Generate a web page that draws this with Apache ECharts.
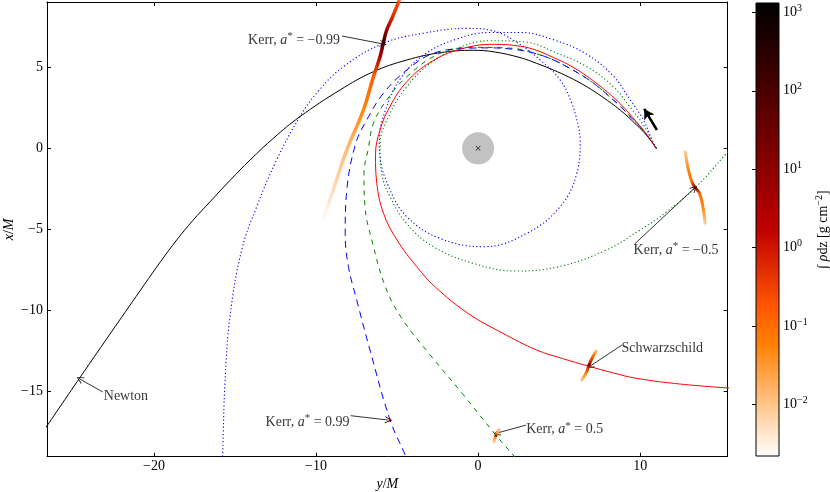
<!DOCTYPE html>
<html><head><meta charset="utf-8">
<script src="https://cdn.jsdelivr.net/npm/echarts@6/dist/echarts.min.js"></script>
<style>html,body{margin:0;padding:0;background:#fff}#c{width:830px;height:492px}</style>
</head><body><div id="c"></div>
<script>
const FONT = 'Liberation Serif';
// axis ticks
const xTicks = [-20, -10, 0, 10];
const yTicks = [-15, -10, -5, 0, 5];
const cbTicks = [-2, -1, 0, 1, 2, 3];
const cbRange = [-2.66, 3.12];

// trajectories [y/M, x/M]
const newton = [[11,0],[10.4,0.8],[9.78,1.44],[8.77,2.36],[7.7,3.15],[6.71,3.8],[5.6,4.4],[4.65,4.83],[3.6,5.25],[2.59,5.6],[1.0,5.95],[-0.3,6.05],[-2.35,5.9],[-4.4,5.45],[-6.46,4.73],[-8.52,3.6],[-11,1.95],[-12.6,0.65],[-14.07,-0.72],[-15.3,-1.97],[-16.54,-3.3],[-17.6,-4.45],[-18.6,-5.66],[-19.6,-7.0],[-20.6,-8.42],[-22.5,-11.15],[-24.57,-14.15],[-26.8,-17.42]];
const schwarzschild = [[11,0],[10.45,0.8],[9.8,1.6],[8.77,2.75],[7.7,3.7],[6.71,4.45],[5.6,5.15],[4.65,5.6],[3.6,6.05],[2.6,6.3],[1.0,6.42],[-1.1,6.12],[-2.96,5.3],[-4.4,4.11],[-5.43,2.6],[-6.05,1.13],[-6.33,-0.4],[-6.25,-2.16],[-5.84,-4.0],[-5.0,-5.66],[-3.79,-7.3],[-2.65,-8.55],[-0.6,-10.2],[1.5,-11.4],[3.62,-12.45],[5.2,-12.97],[6.81,-13.44],[8.3,-13.85],[9.8,-14.2],[12.5,-14.55],[15.6,-14.8]];
const kerr099 = [[11,0],[10.4,0.82],[9.9,1.44],[9.28,2.06],[8.77,2.61],[8.15,3.15],[7.53,3.7],[6.91,4.17],[6.19,4.63],[5.47,5.04],[4.75,5.41],[4.03,5.7],[3.21,5.93],[2.18,6.11],[0.7,6.2],[-0.7,6.17],[-2.76,5.86],[-4.4,4.83],[-5.84,3.4],[-6.87,1.75],[-7.55,0.3],[-8.1,-2.57],[-8.2,-5.25],[-8.0,-7.3],[-7.49,-9.36],[-6.67,-12.45],[-5.43,-16.77],[-4.5,-18.93],[-4.4,-19.3]];
const kerr05 = [[11,0],[10.4,0.82],[9.9,1.44],[9.28,2.06],[8.77,2.61],[8.15,3.15],[7.53,3.7],[6.91,4.17],[6.19,4.63],[5.47,5.04],[4.75,5.41],[4.03,5.7],[3.21,5.95],[2.18,6.17],[-0.29,6.23],[-2.35,5.86],[-4.4,4.42],[-5.64,2.98],[-6.46,1.54],[-6.77,0],[-7.04,-1.54],[-6.98,-3.6],[-6.56,-5.66],[-5.7,-8.6],[-4.71,-10.49],[-3.0,-12.7],[-1.0,-15.1],[1.1,-17.7],[2.3,-19.1],[2.5,-19.4]];
const kerrM05 = [[11,0],[10.82,0.31],[10.2,1.44],[9.36,2.57],[8.35,3.8],[6.71,5.04],[4.65,5.96],[3.0,6.55],[0.74,6.64],[-1.31,6.17],[-2.96,5.25],[-4.4,3.8],[-5.43,2.16],[-6.05,0.2],[-5.95,-1.54],[-5.43,-2.99],[-4.42,-4.63],[-2.76,-6.07],[-0.29,-7.1],[2.3,-7.57],[5.0,-7.3],[7.9,-6.28],[10.0,-5.04],[11.65,-3.91],[13.4,-2.43],[15.25,-0.4],[15.7,0.1]];
const kerrM099 = [[11,0],[10.82,0.31],[10.2,1.75],[9.38,3.0],[8.35,4.45],[6.71,5.8],[4.65,6.7],[2.6,7.15],[0.8,7.15],[-1.3,6.75],[-3.3,5.8],[-4.8,4.3],[-5.7,2.4],[-6.1,0.5],[-6.05,-0.52],[-5.43,-2.57],[-4.4,-4.22],[-2.35,-5.56],[0.33,-6.07],[3.0,-5.25],[5.06,-3.6],[6.09,-1.54],[6.3,0.5],[6.19,1.33],[5.78,2.78],[5.06,4.22],[3.83,5.45],[2.3,6.6],[0.74,7.3],[-0.7,7.4],[-3.38,7.1],[-5.84,6.48],[-8.31,5.04],[-9.8,3.6],[-11.0,1.95],[-12.43,-0.72],[-13.66,-3.6],[-14.59,-6.28],[-15.31,-10.4],[-15.62,-14.5],[-15.76,-18.83],[-15.8,-19.5]];

// debris streaks and log10 column density along them
const streakM099 = [[-4.88,9.1],[-5.31,8.04],[-5.64,7.3],[-5.86,6.45],[-6.05,5.65],[-6.46,4.42],[-7.08,2.36],[-8.1,-0.1],[-8.95,-2.6],[-9.57,-4.43]];
const rhoM099 = [-0.7,-0.3,0.6,2.2,0.6,-0.8,-1.3,-1.9,-2.3,-2.65];
const streakM05 = [[12.78,-0.21],[12.98,-1.34],[13.19,-2.06],[13.4,-2.43],[13.66,-2.78],[13.87,-3.6],[14.01,-4.63]];
const rhoM05 = [-2.2,-1.3,-1.0,1.2,-1.0,-1.3,-2.2];
const streakSchw = [[7.28,-12.51],[7.08,-12.86],[6.84,-13.37],[6.7,-13.79],[6.4,-14.3]];
const rhoSchw = [-2.2,-1.2,0.5,-1.2,-2.2];
const streak05 = [[1.3,-17.35],[1.1,-17.72],[0.98,-18.1]];
const rho05 = [-2.3,-1.2,-2.3];
const cores = [[13.4,-2.43],[6.84,-13.37],[1.1,-17.72],[-5.43,-16.77]];
const coreRho = [1.8,1.8,1.2,0.3];

// annotations
const annoText = ['Kerr, {i|a}{s|*} = −0.99','Kerr, {i|a}{s|*} = −0.5','Schwarzschild','Kerr, {i|a}{s|*} = 0.5','Kerr, {i|a}{s|*} = 0.99','Newton'];
const annoPos = [[-11.36,6.69],[12.21,-6.28],[11.36,-12.35],[5.34,-17.33],[-10.52,-16.88],[-21.73,-15.29]];
const arrowFrom = [[-8.4,6.93],[9.65,-5.91],[8.87,-12.14],[2.96,-17.08],[-7.86,-16.5],[-23.15,-15.04]];
const arrowTo = [[-5.86,6.44],[13.33,-2.47],[6.91,-13.44],[1.17,-17.57],[-5.54,-16.77],[-24.57,-14.24]];
const motionArrow = [[11.03,1.13],[10.25,2.43]];

function cmap(lg){
  const v = (lg - cbRange[0]) / (cbRange[1] - cbRange[0]);
  const t = Math.min(1, Math.max(0, 1 - v));
  const c = x => Math.round(255 * Math.min(1, Math.max(0, x)));
  return 'rgb(' + c(1.5*t) + ',' + c(2*t-1) + ',' + c(4*t-3) + ')';
}
function streakGrad(pts, rho){
  const ys = pts.map(p => p[1]);
  const ymax = Math.max(...ys), ymin = Math.min(...ys);
  const stops = pts.map((p,i) => ({offset:(ymax-p[1])/(ymax-ymin), color:cmap(rho[i])}));
  stops.sort((a,b)=>a.offset-b.offset);
  return new echarts.graphic.LinearGradient(0,0,0,1,stops);
}
const fmt = v => (v < 0 ? '−' : '') + Math.abs(v);
const rich = {
  i:{fontFamily:FONT,fontStyle:'italic',fontSize:14,color:'#000',lineHeight:18},
  n:{fontFamily:FONT,fontSize:14,color:'#000',lineHeight:18},
  s:{fontFamily:FONT,fontSize:11,color:'#000',verticalAlign:'top',lineHeight:10},
  b:{fontFamily:FONT,fontSize:14,color:'#000',lineHeight:18},
  e:{fontFamily:FONT,fontSize:10,color:'#000',verticalAlign:'top',lineHeight:10}
};
const cbExp = {'3':'3','2':'2','1':'1','0':'0','-1':'−1','-2':'−2'};

function traj(data, color, type, width){
  return {type:'line', data, xAxisIndex:0, yAxisIndex:0, symbol:'none', showSymbol:false,
    smooth:0.4, lineStyle:{color, width, type, cap:'butt'}, z:3, silent:true, animation:false};
}
function streak(data, rho, width){
  return {type:'line', data, xAxisIndex:0, yAxisIndex:0, symbol:'none', showSymbol:false,
    smooth:0.4, lineStyle:{color:streakGrad(data, rho), width, cap:'round'}, z:6, silent:true, animation:false};
}
const chev = 'path://M0,10L5,0L10,10L9,10.6L5,2.2L1,10.6Z';

const chart = echarts.init(document.getElementById('c'), null, {renderer:'canvas'});
const option = {
  animation:false,
  backgroundColor:'#fff',
  grid:[
    {left:47, top:2, width:680.7, height:454.7, containLabel:false, outerBoundsMode:'none'},
    {left:756, top:3, width:23, height:453, containLabel:false, outerBoundsMode:'none'}
  ],
  xAxis:[
    {type:'value', gridIndex:0, min:-26.6, max:15.4, position:'bottom',
     axisLine:{onZero:false, lineStyle:{color:'#000', width:1}},
     axisTick:{inside:true, length:4, customValues:xTicks, lineStyle:{color:'#000'}},
     axisLabel:{customValues:xTicks, formatter:fmt, color:'#000', fontFamily:FONT, fontSize:14, margin:3},
     splitLine:{show:false},
     name:'{i|y}{n|/}{i|M}', nameLocation:'middle', nameGap:19, nameMoveOverlap:false, nameTextStyle:{rich}},
    {type:'value', gridIndex:0, min:-26.6, max:15.4, position:'top',
     axisLine:{onZero:false, lineStyle:{color:'#000', width:1}},
     axisTick:{inside:true, length:4, customValues:xTicks, lineStyle:{color:'#000'}},
     axisLabel:{show:false}, splitLine:{show:false}},
    {type:'value', gridIndex:1, min:0, max:1, show:false}
  ],
  yAxis:[
    {type:'value', gridIndex:0, min:-19.03, max:9.03, position:'left',
     axisLine:{onZero:false, lineStyle:{color:'#000', width:1}},
     axisTick:{inside:true, length:4, customValues:yTicks, lineStyle:{color:'#000'}},
     axisLabel:{customValues:yTicks, formatter:fmt, color:'#000', fontFamily:FONT, fontSize:14, margin:4},
     splitLine:{show:false},
     name:'{i|x}{n|/}{i|M}', nameLocation:'middle', nameGap:29, nameRotate:90, nameMoveOverlap:false, nameTextStyle:{rich}},
    {type:'value', gridIndex:0, min:-19.03, max:9.03, position:'right',
     axisLine:{onZero:false, lineStyle:{color:'#000', width:1}},
     axisTick:{inside:true, length:4, customValues:yTicks, lineStyle:{color:'#000'}},
     axisLabel:{show:false}, splitLine:{show:false}},
    {type:'value', gridIndex:1, min:cbRange[0], max:cbRange[1], position:'right', z:10,
     axisLine:{show:false},
     axisTick:{inside:true, length:4, customValues:cbTicks, lineStyle:{color:'#000'}},
     axisLabel:{customValues:cbTicks, margin:4, formatter:v => '{b|10}{e|' + cbExp[String(Math.round(v))] + '}', rich},
     splitLine:{show:false},
     name:'∫ {i|ρ}{n|dz [g cm}{e|−2}{n|]}', nameLocation:'middle', nameGap:35, nameRotate:90, nameMoveOverlap:false,
     nameTextStyle:{rich, fontFamily:FONT, fontSize:14, color:'#000'}}
  ],
  series:[
    {type:'scatter', xAxisIndex:0, yAxisIndex:0, data:[[0,0]], symbol:'circle', symbolSize:32,
     itemStyle:{color:'#b3b3b3'}, z:1, silent:true},
    {type:'scatter', xAxisIndex:0, yAxisIndex:0, data:[[0,0]], symbol:'path://M1,0L5,4L9,0L10,1L6,5L10,9L9,10L5,6L1,10L0,9L4,5L0,1Z', symbolSize:5,
     itemStyle:{color:'#000'}, z:2, silent:true},
    traj(newton, '#000000', 'solid', 1),
    traj(kerrM099, '#0000ff', [1.2,2.4], 1.1),
    traj(kerrM05, '#008000', [1.2,2.4], 1.1),
    traj(kerr05, '#008000', [5,5], 1),
    traj(kerr099, '#0000ff', [7,5], 1),
    traj(schwarzschild, '#ff0000', 'solid', 1),
    streak(streakM099, rhoM099, 3.5),
    streak(streakM05, rhoM05, 3),
    streak(streakSchw, rhoSchw, 3),
    streak(streak05, rho05, 3),
    {type:'scatter', xAxisIndex:0, yAxisIndex:0, data:cores.map((p,i)=>({value:p, itemStyle:{color:cmap(coreRho[i])}})),
     symbolSize:3, z:7, silent:true},
    {type:'scatter', xAxisIndex:0, yAxisIndex:0, symbolSize:0, z:8, silent:true,
     data:annoPos.map((p,i)=>({value:p, label:{formatter:annoText[i]}})),
     label:{show:true, position:'inside', align:'center', verticalAlign:'middle', fontFamily:FONT, fontSize:14, color:'#000', lineHeight:18, rich}},
    {type:'line', xAxisIndex:0, yAxisIndex:0, data:[], z:8, silent:true,
     markLine:{silent:true, animation:false, label:{show:false}, symbol:['none', chev], symbolSize:7,
       lineStyle:{color:'#000', width:0.8, type:'solid'},
       data: arrowFrom.map((p,i)=>[{coord:p},{coord:arrowTo[i]}]).concat([[
         {coord:motionArrow[0], lineStyle:{width:2.5, color:'#000', type:'solid'}, symbol:'none'},
         {coord:motionArrow[1], symbol:'arrow', symbolSize:[9,10]}
       ]])}},
    {type:'custom', xAxisIndex:2, yAxisIndex:2, data:[[0.5,0]], z:2, silent:true, clip:false,
     renderItem:(params, api) => {
       const p0 = api.coord([0, cbRange[1]]);
       const p1 = api.coord([1, cbRange[0]]);
       return {type:'rect', shape:{x:p0[0], y:p0[1], width:p1[0]-p0[0], height:p1[1]-p0[1]},
         style:{fill:new echarts.graphic.LinearGradient(0,0,0,1,[
           {offset:0, color:'rgb(0,0,0)'},
           {offset:0.5, color:'rgb(191,0,0)'},
           {offset:2/3, color:'rgb(255,85,0)'},
           {offset:0.75, color:'rgb(255,128,0)'},
           {offset:1, color:'rgb(255,255,255)'}]), stroke:'#000', lineWidth:1}};
     }}
  ]
};
chart.setOption(option);
</script>
</body></html>
